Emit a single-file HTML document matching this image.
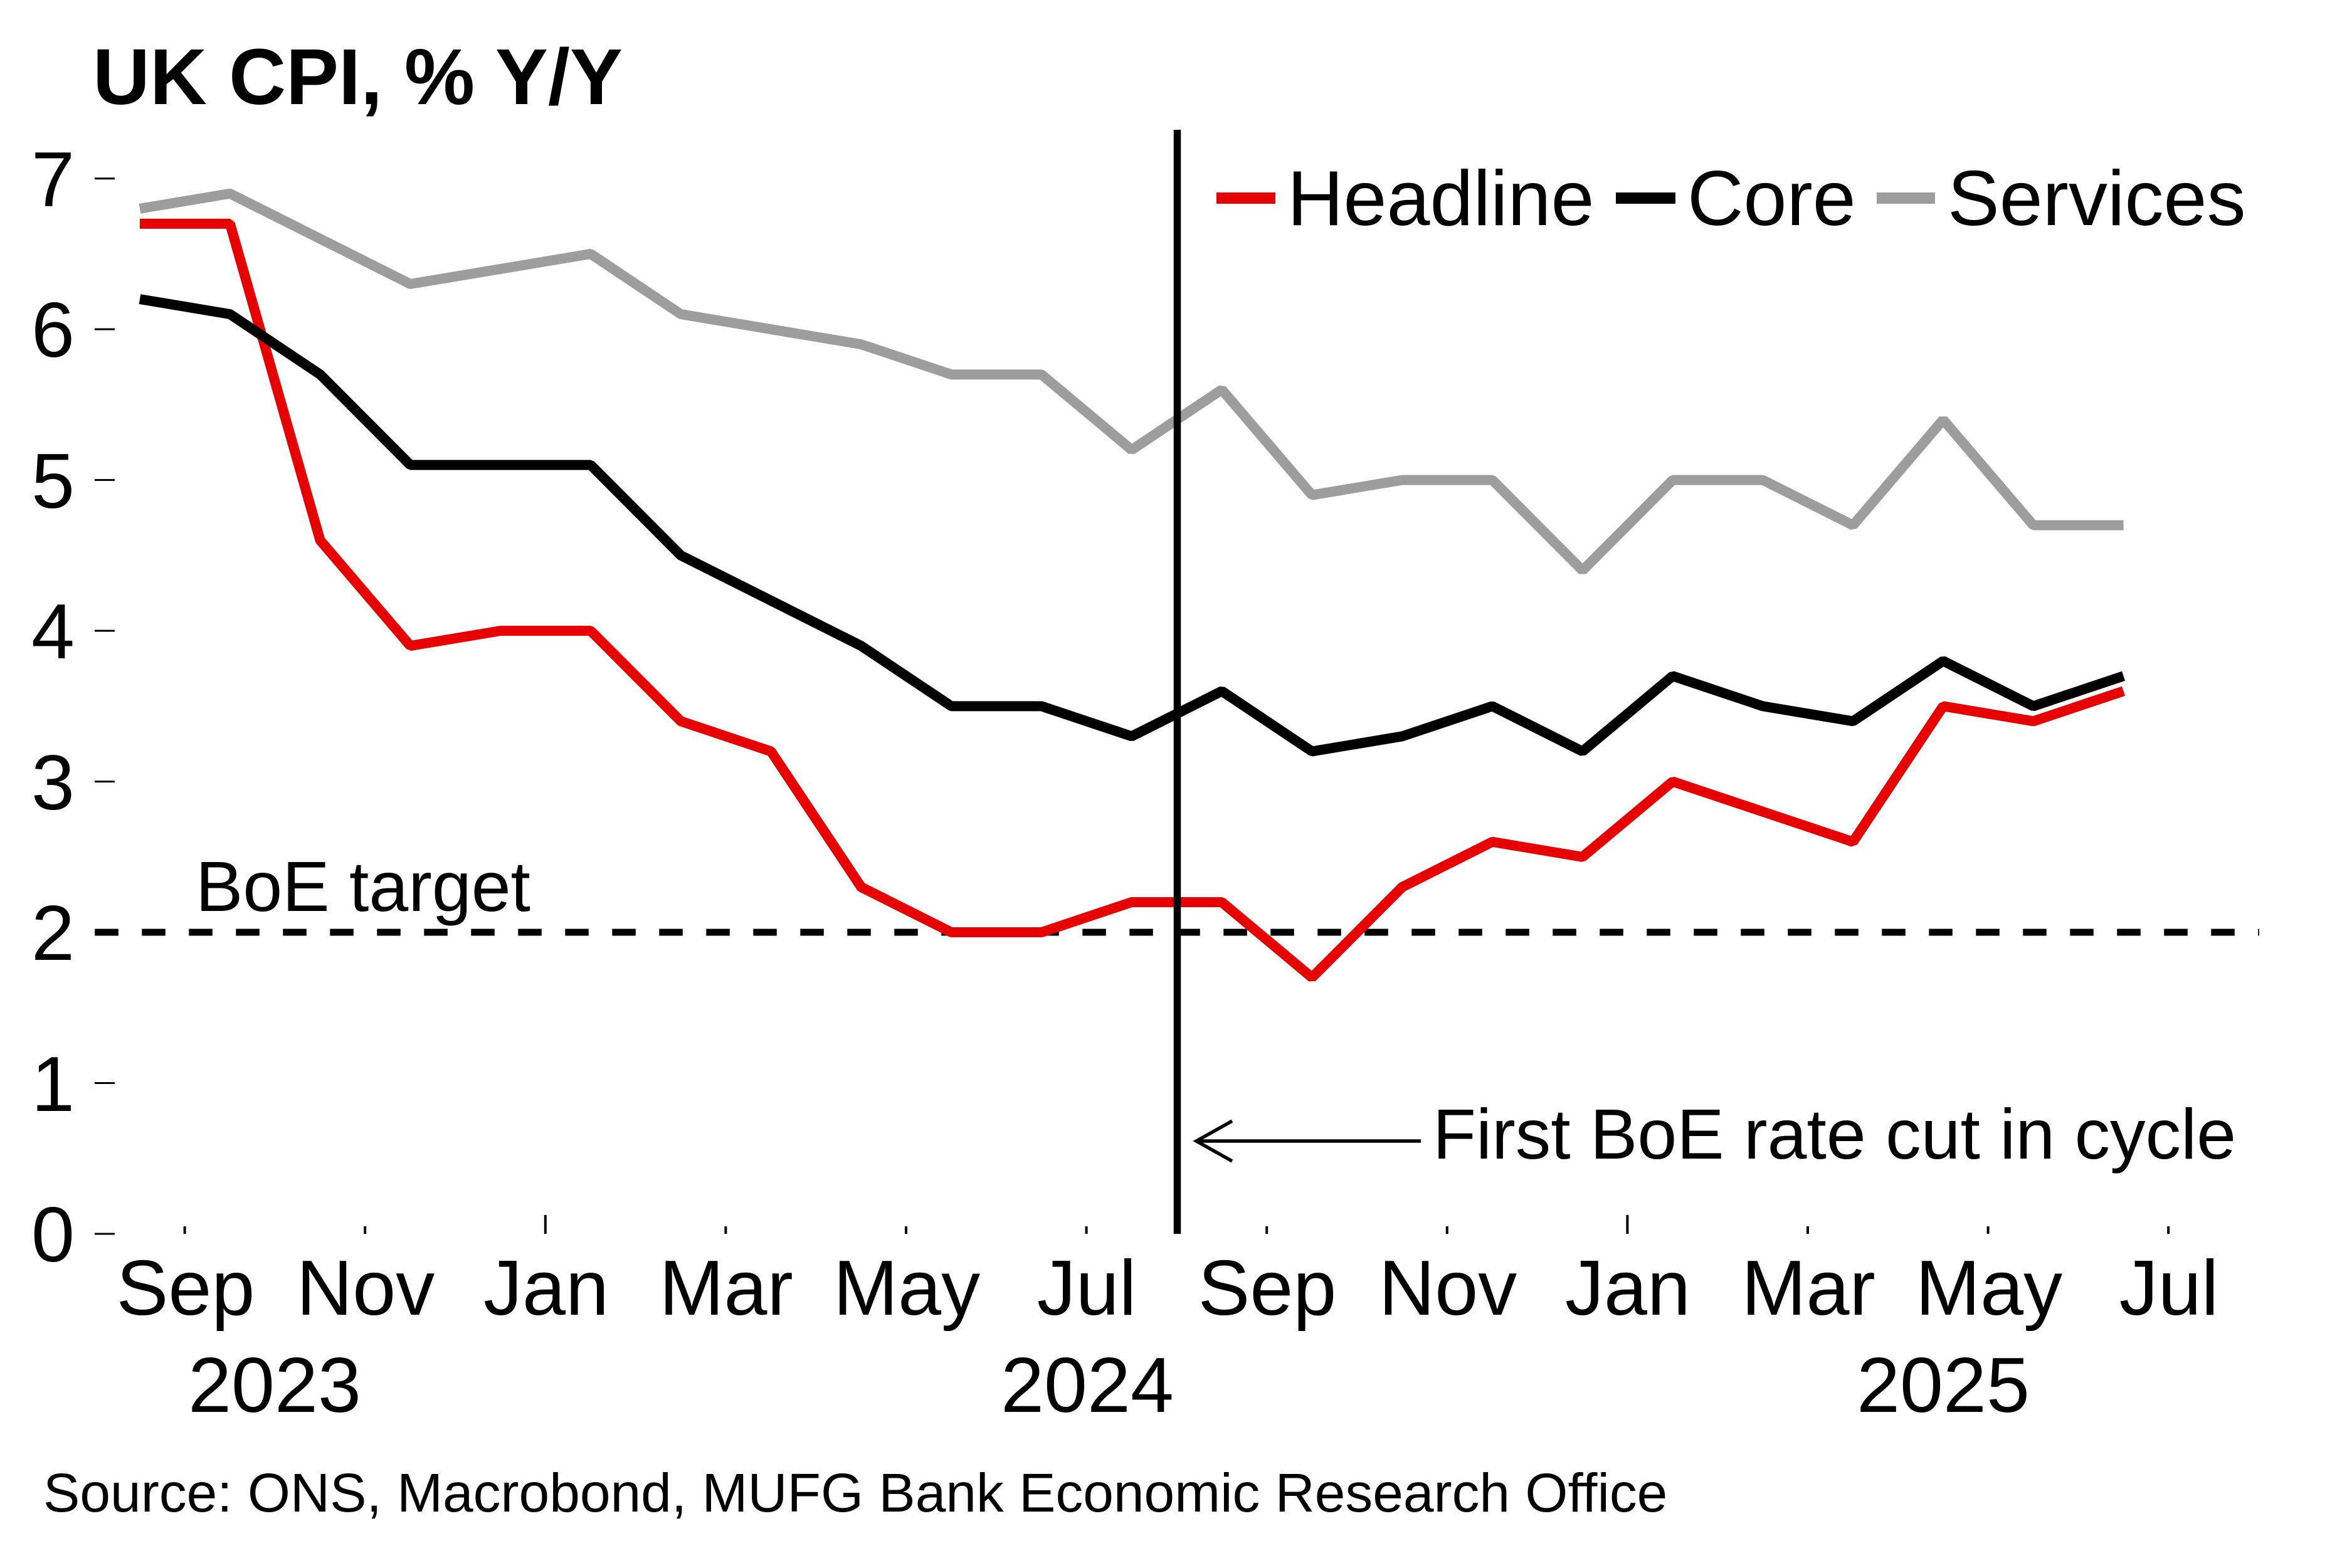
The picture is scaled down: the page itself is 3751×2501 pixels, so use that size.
<!DOCTYPE html>
<html>
<head>
<meta charset="utf-8">
<style>
html,body{margin:0;padding:0;background:#fff;}
svg{display:block;}
text{font-family:"Liberation Sans",Arial,sans-serif;fill:#000;}
</style>
</head>
<body>
<svg width="3751" height="2501" viewBox="0 0 3751 2501" xmlns="http://www.w3.org/2000/svg">
<rect x="0" y="0" width="3751" height="2501" fill="#fff"/>

<!-- Title -->
<text x="148" y="166" font-size="126" font-weight="bold">UK CPI, % Y/Y</text>

<!-- Y axis ticks -->
<g stroke="#000" stroke-width="3">
<line x1="151" y1="1968" x2="183" y2="1968"/>
<line x1="151" y1="1727.53" x2="183" y2="1727.53"/>
<line x1="151" y1="1487.06" x2="183" y2="1487.06"/>
<line x1="151" y1="1246.59" x2="183" y2="1246.59"/>
<line x1="151" y1="1006.12" x2="183" y2="1006.12"/>
<line x1="151" y1="765.65" x2="183" y2="765.65"/>
<line x1="151" y1="525.18" x2="183" y2="525.18"/>
<line x1="151" y1="284.71" x2="183" y2="284.71"/>
</g>
<g font-size="124" text-anchor="end">
<text x="119" y="2012">0</text>
<text x="119" y="1772">1</text>
<text x="119" y="1531">2</text>
<text x="119" y="1291">3</text>
<text x="119" y="1050">4</text>
<text x="119" y="810">5</text>
<text x="119" y="569">6</text>
<text x="119" y="329">7</text>
</g>

<!-- X axis ticks -->
<g stroke="#000" stroke-width="4">
<line x1="294.6" y1="1956" x2="294.6" y2="1968"/>
<line x1="582.2" y1="1956" x2="582.2" y2="1968"/>
<line x1="869.8" y1="1938" x2="869.8" y2="1968"/>
<line x1="1157.4" y1="1956" x2="1157.4" y2="1968"/>
<line x1="1445.0" y1="1956" x2="1445.0" y2="1968"/>
<line x1="1732.6" y1="1956" x2="1732.6" y2="1968"/>
<line x1="2020.2" y1="1956" x2="2020.2" y2="1968"/>
<line x1="2307.8" y1="1956" x2="2307.8" y2="1968"/>
<line x1="2595.4" y1="1938" x2="2595.4" y2="1968"/>
<line x1="2883.0" y1="1956" x2="2883.0" y2="1968"/>
<line x1="3170.6" y1="1956" x2="3170.6" y2="1968"/>
<line x1="3458.2" y1="1956" x2="3458.2" y2="1968"/>
</g>
<g font-size="124" text-anchor="middle">
<text x="296" y="2097">Sep</text>
<text x="583" y="2097">Nov</text>
<text x="871" y="2097">Jan</text>
<text x="1158" y="2097">Mar</text>
<text x="1446" y="2097">May</text>
<text x="1733" y="2097">Jul</text>
<text x="2021" y="2097">Sep</text>
<text x="2309" y="2097">Nov</text>
<text x="2596" y="2097">Jan</text>
<text x="2884" y="2097">Mar</text>
<text x="3172" y="2097">May</text>
<text x="3459" y="2097">Jul</text>
<text x="438" y="2252">2023</text>
<text x="1734" y="2252">2024</text>
<text x="3099" y="2252">2025</text>
</g>

<!-- BoE target dashed line -->
<line x1="151.3" y1="1487" x2="3603" y2="1487" stroke="#000" stroke-width="11" stroke-dasharray="37.5 37.5"/>
<text x="312" y="1453" font-size="113">BoE target</text>

<!-- Series -->
<g fill="none" stroke-width="16" stroke-linejoin="bevel" stroke-linecap="butt">
<polyline stroke="#e60000" points="223,356.85 366.8,356.85 510.6,861.84 654.4,1030.17 798.2,1006.12 942,1006.12 1085.8,1150.40 1229.6,1198.50 1373.4,1414.92 1517.2,1487.06 1661,1487.06 1804.8,1438.97 1948.6,1438.97 2092.4,1559.2 2236.2,1414.92 2380,1342.78 2523.8,1366.83 2667.6,1246.59 2811.4,1294.68 2955.2,1342.78 3099,1126.36 3242.8,1150.40 3386.6,1102.31"/>
<polyline stroke="#000000" points="223,477.09 366.8,501.13 510.6,597.32 654.4,741.60 798.2,741.60 942,741.60 1085.8,885.89 1229.6,958.03 1373.4,1030.17 1517.2,1126.36 1661,1126.36 1804.8,1174.45 1948.6,1102.31 2092.4,1198.50 2236.2,1174.45 2380,1126.36 2523.8,1198.50 2667.6,1078.26 2811.4,1126.36 2955.2,1150.40 3099,1054.21 3242.8,1126.36 3386.6,1078.26"/>
<polyline stroke="#9d9d9d" points="223,332.80 366.8,308.76 510.6,380.90 654.4,453.04 798.2,428.99 942,404.95 1085.8,501.13 1229.6,525.18 1373.4,549.23 1517.2,597.32 1661,597.32 1804.8,717.56 1948.6,621.37 2092.4,789.70 2236.2,765.65 2380,765.65 2523.8,909.93 2667.6,765.65 2811.4,765.65 2955.2,837.79 3099,669.46 3242.8,837.79 3386.6,837.79"/>
</g>

<!-- Vertical line: first BoE cut -->
<line x1="1877.5" y1="207" x2="1877.5" y2="1968" stroke="#000" stroke-width="11.5"/>

<!-- Arrow annotation -->
<line x1="1908" y1="1820" x2="2266" y2="1820" stroke="#000" stroke-width="5.5"/>
<polyline points="1965,1788 1908,1820 1965,1852" fill="none" stroke="#000" stroke-width="5.5"/>
<text x="2285" y="1848" font-size="113">First BoE rate cut in cycle</text>

<!-- Legend -->
<line x1="1940" y1="316" x2="2034" y2="316" stroke="#e60000" stroke-width="18"/>
<text x="2053" y="359" font-size="124">Headline</text>
<line x1="2577" y1="316" x2="2672" y2="316" stroke="#000" stroke-width="18"/>
<text x="2691" y="359" font-size="124">Core</text>
<line x1="2993" y1="316" x2="3086" y2="316" stroke="#9d9d9d" stroke-width="18"/>
<text x="3106" y="359" font-size="124">Services</text>

<!-- Source -->
<text x="69" y="2411" font-size="87.5">Source: ONS, Macrobond, MUFG Bank Economic Research Office</text>
</svg>
</body>
</html>
